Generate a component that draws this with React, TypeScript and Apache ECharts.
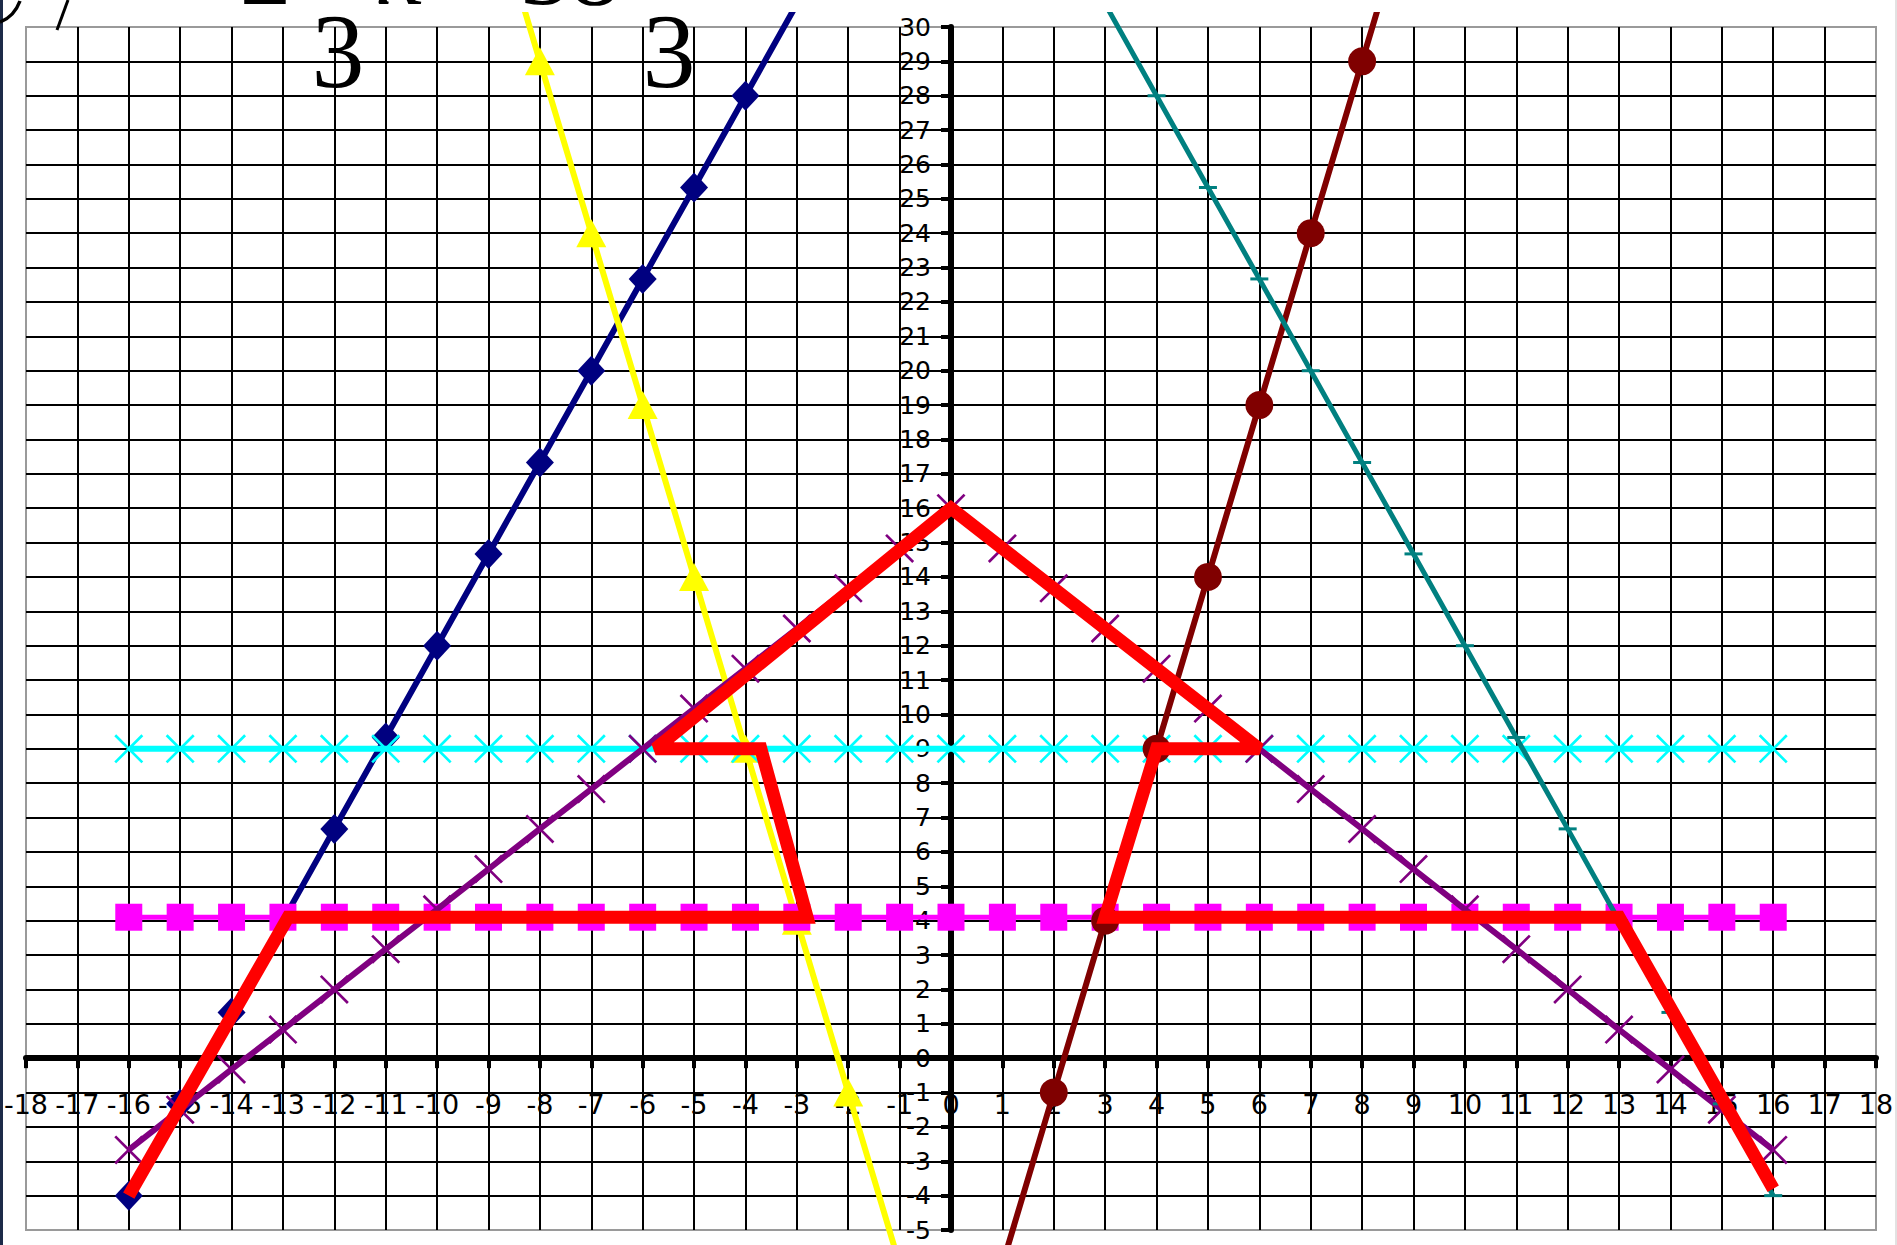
import React, { useEffect, useRef } from "react";
import * as echarts from "echarts";

// Axis ranges
const X_MIN = -18;
const X_MAX = 18;
const Y_MIN = -5;
const Y_MAX = 30;

// Navy line with diamonds
const navyX = [-16, -15, -14, -13, -12, -11, -10, -9, -8, -7, -6, -5, -4, -3];
const navyY = [-4, -1.33, 1.33, 4, 6.67, 9.33, 12, 14.67, 17.33, 20, 22.67, 25.33, 28, 30.67];

// Yellow line with triangles
const yellowX = [-9, -8, -7, -6, -5, -4, -3, -2, -1];
const yellowY = [34, 29, 24, 19, 14, 9, 4, -1, -6];

// Purple line with crosses
const purpleX = [-16, -15, -14, -13, -12, -11, -10, -9, -8, -7, -6, -5, -4, -3, -2, -1, 0, 1, 2, 3, 4, 5, 6, 7, 8, 9, 10, 11, 12, 13, 14, 15, 16];
const purpleY = [-2.67, -1.5, -0.33, 0.83, 2, 3.17, 4.33, 5.5, 6.67, 7.83, 9, 10.17, 11.33, 12.5, 13.67, 14.83, 16, 14.83, 13.67, 12.5, 11.33, 10.17, 9, 7.83, 6.67, 5.5, 4.33, 3.17, 2, 0.83, -0.33, -1.5, -2.67];

// Cyan horizontal line with crosses
const cyanX = [-16, -15, -14, -13, -12, -11, -10, -9, -8, -7, -6, -5, -4, -3, -2, -1, 0, 1, 2, 3, 4, 5, 6, 7, 8, 9, 10, 11, 12, 13, 14, 15, 16];
const cyanY = [9, 9, 9, 9, 9, 9, 9, 9, 9, 9, 9, 9, 9, 9, 9, 9, 9, 9, 9, 9, 9, 9, 9, 9, 9, 9, 9, 9, 9, 9, 9, 9, 9];

// Magenta horizontal line with squares
const magentaX = [-16, -15, -14, -13, -12, -11, -10, -9, -8, -7, -6, -5, -4, -3, -2, -1, 0, 1, 2, 3, 4, 5, 6, 7, 8, 9, 10, 11, 12, 13, 14, 15, 16];
const magentaY = [4.1, 4.1, 4.1, 4.1, 4.1, 4.1, 4.1, 4.1, 4.1, 4.1, 4.1, 4.1, 4.1, 4.1, 4.1, 4.1, 4.1, 4.1, 4.1, 4.1, 4.1, 4.1, 4.1, 4.1, 4.1, 4.1, 4.1, 4.1, 4.1, 4.1, 4.1, 4.1, 4.1];

// Brown line with circles
const brownX = [1, 2, 3, 4, 5, 6, 7, 8, 9];
const brownY = [-6, -1, 4, 9, 14, 19, 24, 29, 34];

// Teal line with dash markers
const tealX = [3, 4, 5, 6, 7, 8, 9, 10, 11, 12, 13, 14, 15, 16];
const tealY = [30.67, 28, 25.33, 22.67, 20, 17.33, 14.67, 12, 9.33, 6.67, 4, 1.33, -1.33, -4];

// Thick red outline
const redX = [-16, -12.9, -2.8, -3.7, -5.75, 0, 6, 4, 3, 13, 16];
const redY = [-4, 4.1, 4.1, 9, 9, 16, 9, 9, 4.1, 4.1, -3.8];

// Tick labels
const xTicks = [-18, -17, -16, -15, -14, -13, -12, -11, -10, -9, -8, -7, -6, -5, -4, -3, -2, -1, 0, 1, 2, 3, 4, 5, 6, 7, 8, 9, 10, 11, 12, 13, 14, 15, 16, 17, 18];
const yTicks = [-5, -4, -3, -2, -1, 0, 1, 2, 3, 4, 5, 6, 7, 8, 9, 10, 11, 12, 13, 14, 15, 16, 17, 18, 19, 20, 21, 22, 23, 24, 25, 26, 27, 28, 29, 30];

const CROSS = "path://M0,1.3 L1.3,0 L20,18.7 L18.7,20 Z M18.7,0 L20,1.3 L1.3,20 L0,18.7 Z";

// layout of the plot
const W = 1897;
const H = 1245;
const G_LEFT = 26;
const G_RIGHT = 21;
const G_TOP = 27;
const G_BOTTOM = 15;
const plotW = W - G_LEFT - G_RIGHT;
const plotH = H - G_TOP - G_BOTTOM;
// move axes to cross at the origin (offset from the grid edges)
const X_AXIS_OFFSET = -(plotH * (0 - Y_MIN)) / (Y_MAX - Y_MIN);
const Y_AXIS_OFFSET = -(plotW * (0 - X_MIN)) / (X_MAX - X_MIN);

function pts(xs: number[], ys: number[]) {
  return xs.map((x, i) => {
    const y = ys[i];
    if (y > Y_MAX || y < Y_MIN) return { value: [x, y], symbol: "none" };
    return { value: [x, y] };
  });
}

function lineSeries(name: string, xs: number[], ys: number[], color: string, width: number, symbol: any, size: any, z: number) {
  return {
    name,
    type: "line",
    data: pts(xs, ys),
    clip: false,
    showAllSymbol: true,
    symbol,
    symbolSize: size,
    z,
    lineStyle: { color, width },
    itemStyle: { color, borderWidth: 0 },
    emphasis: { disabled: true },
  };
}

export default function App() {
  const ref = useRef<HTMLDivElement>(null);
  useEffect(() => {
    document.body.style.margin = "0";
    const chart = echarts.init(ref.current!, undefined, { renderer: "svg" });
    const serif = '"Liberation Serif", "Times New Roman", serif';
    const gridLine = { color: "#000000", width: 2 };
    chart.setOption({
      animation: false,
      backgroundColor: "#ffffff",
      textStyle: { fontFamily: '"DejaVu Sans", sans-serif' },
      grid: {
        left: G_LEFT,
        right: G_RIGHT,
        top: G_TOP,
        bottom: G_BOTTOM,
        show: true,
        borderColor: "#9a9a9a",
        borderWidth: 2,
      },
      xAxis: {
        type: "value",
        min: X_MIN,
        max: X_MAX,
        interval: 1,
        position: "bottom",
        offset: X_AXIS_OFFSET,
        axisLine: { onZero: false, lineStyle: { color: "#000", width: 6 } },
        axisTick: { show: true, length: 10, lineStyle: { color: "#000", width: 4 } },
        axisLabel: {
          color: "#000",
          fontSize: 27,
          fontFamily: '"DejaVu Sans", sans-serif',
          margin: 33,
          showMinLabel: true,
          showMaxLabel: true,
          formatter: (v: number) => (xTicks.includes(v) ? String(v) : ""),
        },
        splitLine: { show: true, showMinLine: false, showMaxLine: false, lineStyle: gridLine },
      },
      yAxis: {
        type: "value",
        min: Y_MIN,
        max: Y_MAX,
        interval: 1,
        position: "left",
        offset: Y_AXIS_OFFSET,
        axisLine: { onZero: false, lineStyle: { color: "#000", width: 6 } },
        axisTick: { show: true, length: 10, lineStyle: { color: "#000", width: 4 } },
        axisLabel: {
          color: "#000",
          fontSize: 25,
          fontFamily: '"DejaVu Sans", sans-serif',
          margin: 20,
          showMinLabel: true,
          showMaxLabel: true,
          formatter: (v: number) => (yTicks.includes(v) ? String(v) : ""),
        },
        splitLine: { show: true, showMinLine: false, showMaxLine: false, lineStyle: gridLine },
      },
      series: [
        lineSeries("navy", navyX, navyY, "#000080", 6, "diamond", [28, 30], 2),
        lineSeries("yellow", yellowX, yellowY, "#ffff00", 6, "triangle", [30, 28], 2),
        lineSeries("cyan", cyanX, cyanY, "#00ffff", 6, CROSS, 29, 3),
        lineSeries("magenta", magentaX, magentaY, "#ff00ff", 5, "rect", 27, 3),
        lineSeries("purple", purpleX, purpleY, "#800080", 6, CROSS, 29, 4),
        lineSeries("brown", brownX, brownY, "#800000", 6, "circle", 28, 5),
        lineSeries("teal", tealX, tealY, "#008080", 5, "rect", [18, 3], 5),
        {
          name: "red",
          type: "line",
          data: redX.map((x, i) => [x, redY[i]]),
          clip: false,
          symbol: "none",
          z: 10,
          lineStyle: { color: "#ff0000", width: 13, cap: "butt", join: "miter", miterLimit: 2 },
          emphasis: { disabled: true },
        },
      ],
      graphic: [
        { type: "rect", z: 100, shape: { x: 0, y: 0, width: W, height: 12 }, style: { fill: "#ffffff" } },
        { type: "rect", z: 101, shape: { x: 0, y: 0, width: 3, height: H }, style: { fill: "#1c2a48" } },
        { type: "rect", z: 101, shape: { x: W - 2, y: 0, width: 2, height: H }, style: { fill: "#e2e2e2" } },
        {
          type: "text", z: 102, x: 338, y: 51,
          style: { text: "3", font: `106px ${serif}`, lineHeight: 80, fill: "#000", textAlign: "center", textVerticalAlign: "middle" },
        },
        {
          type: "text", z: 102, x: 669, y: 51,
          style: { text: "3", font: `106px ${serif}`, lineHeight: 80, fill: "#000", textAlign: "center", textVerticalAlign: "middle" },
        },
        {
          type: "text", z: 102, x: 265, y: -31,
          style: { text: "2", font: `bold 100px ${serif}`, fill: "#000", textAlign: "center", textVerticalAlign: "middle" },
        },
        {
          type: "text", z: 102, x: 402, y: -30,
          style: { text: "x", font: `italic 100px ${serif}`, fill: "#000", textAlign: "center", textVerticalAlign: "middle" },
        },
        {
          type: "text", z: 102, x: 483, y: -29,
          style: { text: "+", font: `100px ${serif}`, fill: "#000", textAlign: "center", textVerticalAlign: "middle" },
        },
        {
          type: "text", z: 102, x: 570, y: -30,
          style: { text: "38", font: `100px ${serif}`, fill: "#000", textAlign: "center", textVerticalAlign: "middle" },
        },
        {
          type: "bezierCurve", z: 102,
          shape: { x1: 0, y1: 22, x2: 20, y2: 1, cpx1: 14, cpy1: 17 },
          style: { stroke: "#000", lineWidth: 3.5, fill: "none" },
        },
        {
          type: "line", z: 102,
          shape: { x1: 68, y1: 0, x2: 57, y2: 30 },
          style: { stroke: "#000", lineWidth: 3 },
        },
      ],
    });
    return () => chart.dispose();
  }, []);
  return <div ref={ref} style={{ position: "absolute", left: 0, top: 0, width: W, height: H }} />;
}
